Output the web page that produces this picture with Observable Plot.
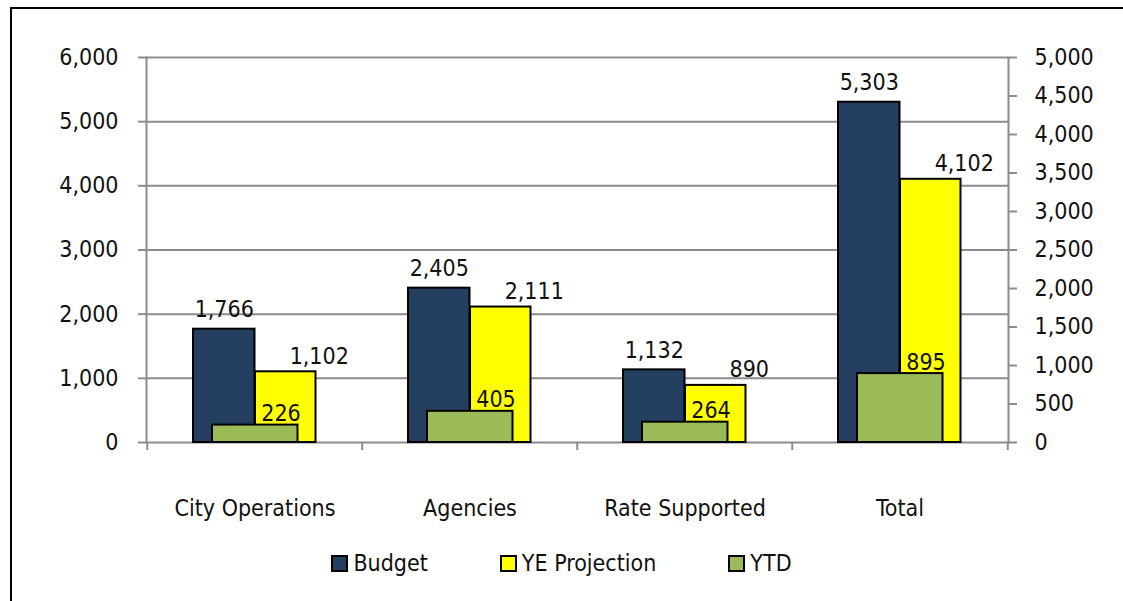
<!DOCTYPE html>
<html>
<head>
<meta charset="utf-8">
<script src="https://cdn.jsdelivr.net/npm/d3@7"></script>
<script src="https://cdn.jsdelivr.net/npm/@observablehq/plot@0.6"></script>
<style>
  html, body { margin: 0; padding: 0; background: #fff; }
  #wrap { position: relative; width: 1123px; height: 601px; overflow: hidden;
          font-family: "Liberation Sans Narrow", "Arial Narrow", "DejaVu Sans Condensed", sans-serif; }
  #border { position: absolute; left: 10px; top: 7px; right: -10px; bottom: -10px;
            border-left: 2px solid #000; border-top: 2px solid #000; }
  #chart { position: absolute; left: 0; top: 0; }
  #legend { position: absolute; left: 0; top: 550px; width: 1123px; display: flex;
            justify-content: center; gap: 72px; font-size: 23px; color: #111; }
  .item { display: flex; align-items: center; gap: 5px; }
  .sw { width: 13px; height: 13px; border: 2px solid #000; }
</style>
</head>
<body>
<div id="wrap">
  <div id="border"></div>
  <div id="chart"></div>
  <div id="legend"></div>
</div>
<script>
// ---- data ----
const categories = ["City Operations", "Agencies", "Rate Supported", "Total"];
const budget = [1766, 2405, 1132, 5303];
const yeProjection = [1102, 2111, 890, 4102];
const ytd = [226, 405, 264, 895];
const seriesNames = ["Budget", "YE Projection", "YTD"];
const seriesColors = ["#243F60", "#FFFF00", "#9BBB59"];
const leftTicks = [0, 1000, 2000, 3000, 4000, 5000, 6000];
const rightTicks = [0, 500, 1000, 1500, 2000, 2500, 3000, 3500, 4000, 4500, 5000];

const rows = categories.map((c, i) => ({category: c, budget: budget[i], ye: yeProjection[i], ytd: ytd[i]}));
const ratio = 6000 / 5000; // secondary (right) axis maps 0–5000 onto the 0–6000 left scale
const fmt = d3.format(",");

const W = 1123, H = 530;
const mL = 146, mR = 115, mT = 57, mB = 88;
const band = (W - mL - mR) / categories.length;
const grid = "#8c8c8c";
const font = "\"Liberation Sans Narrow\", \"Arial Narrow\", \"DejaVu Sans Condensed\", sans-serif";
const fs = 23;

const chart = Plot.plot({
  width: W, height: H,
  marginLeft: mL, marginRight: mR, marginTop: mT, marginBottom: mB,
  style: {fontFamily: font, fontSize: fs + "px", color: "#111", background: "transparent"},
  x: {type: "band", domain: categories, padding: 0, label: null},
  y: {domain: [0, 6000], label: null},
  marks: [
    Plot.ruleY(leftTicks, {stroke: grid, strokeWidth: 2}),
    Plot.frame({anchor: "left", stroke: grid, strokeWidth: 2}),
    Plot.frame({anchor: "right", stroke: grid, strokeWidth: 2}),
    // category separator ticks
    Plot.ruleX(categories, {x: d => d, dx: -band / 2, y1: 0, y2: 0, insetBottom: -8, stroke: grid, strokeWidth: 2}),
    Plot.ruleX([categories[categories.length - 1]], {x: d => d, dx: band / 2, y1: 0, y2: 0, insetBottom: -8, stroke: grid, strokeWidth: 2}),
    // bars
    Plot.barY(rows, {x: "category", y: "budget", fill: seriesColors[0], stroke: "#000", strokeWidth: 2,
      insetLeft: 46, insetRight: band - 108}),
    Plot.barY(rows, {x: "category", y: "ye", fill: seriesColors[1], stroke: "#000", strokeWidth: 2,
      insetLeft: 108, insetRight: band - 169}),
    Plot.barY(rows, {x: "category", y: d => d.ytd * ratio, fill: seriesColors[2], stroke: "#000", strokeWidth: 2,
      insetLeft: 65, insetRight: band - 151}),
    // value labels
    Plot.text(rows, {x: "category", y: "budget", text: d => fmt(d.budget), dx: -band / 2 + 77, dy: -12,
      lineAnchor: "bottom", fill: "#111", fontSize: fs}),
    Plot.text(rows, {x: "category", y: "ye", text: d => fmt(d.ye), dx: -band / 2 + 172, dy: -8,
      lineAnchor: "bottom", fill: "#111", fontSize: fs}),
    Plot.text(rows, {x: "category", y: d => d.ytd * ratio, text: d => fmt(d.ytd), dx: 26, dy: -4,
      lineAnchor: "bottom", fill: "#111", fontSize: fs}),
    // axes
    Plot.axisY({anchor: "left", ticks: leftTicks, tickSize: 8, tickPadding: 20, tickFormat: fmt,
      stroke: grid, strokeWidth: 2, fontSize: fs}),
    Plot.axisY({anchor: "right", ticks: rightTicks.map(v => v * ratio), tickSize: 8, tickPadding: 18,
      tickFormat: v => fmt(Math.round(v / ratio)), stroke: grid, strokeWidth: 2, fontSize: fs}),
    Plot.axisX({anchor: "bottom", tickSize: 0, tickPadding: 57, fontSize: fs})
  ]
});
document.getElementById("chart").appendChild(chart);

const legend = document.getElementById("legend");
seriesNames.forEach((name, i) => {
  const item = document.createElement("div");
  item.className = "item";
  const sw = document.createElement("span");
  sw.className = "sw";
  sw.style.background = seriesColors[i];
  const label = document.createElement("span");
  label.textContent = name;
  item.appendChild(sw);
  item.appendChild(label);
  legend.appendChild(item);
});
</script>
</body>
</html>
